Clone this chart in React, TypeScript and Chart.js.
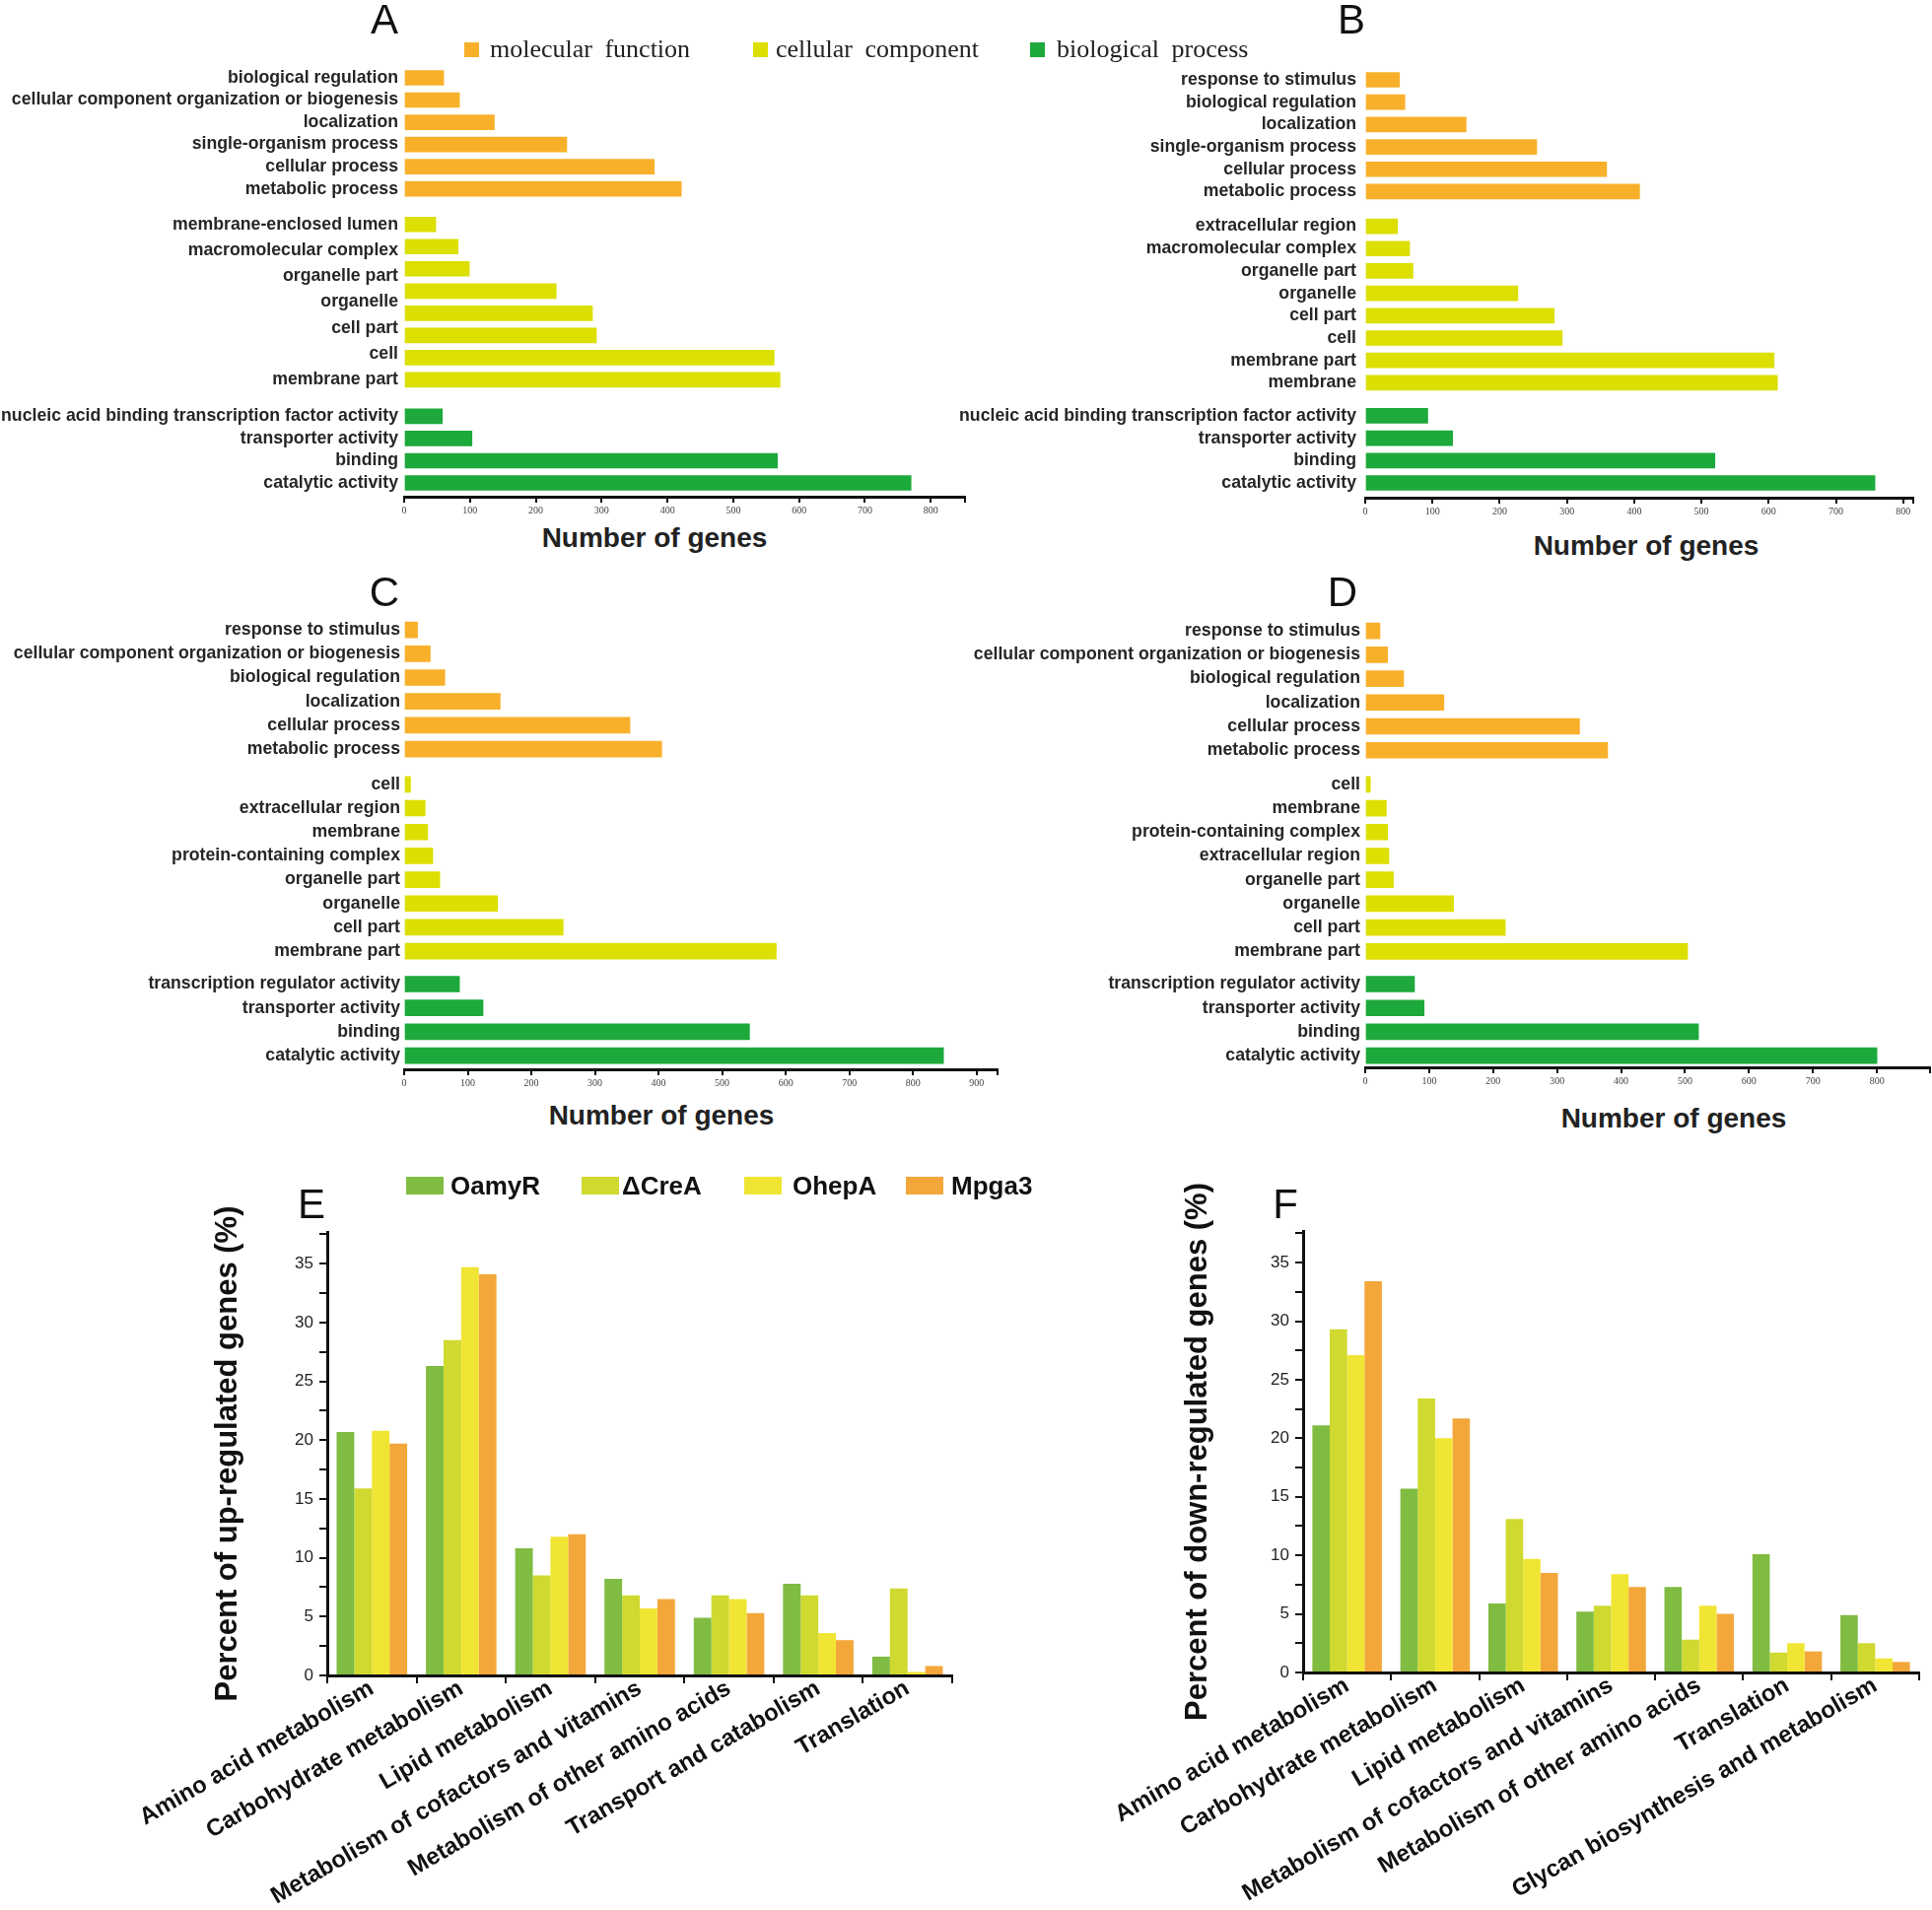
import React, { useEffect, useRef } from 'react';
import { Chart, registerables } from 'chart.js';

Chart.register(...registerables);

const SANS = '"Liberation Sans", Arial, Helvetica, sans-serif';
const SERIF = '"Liberation Serif", "Times New Roman", Times, serif';

// ---------------- GO classification (panels A–D) ----------------
const goGroupNames = ['molecular function', 'cellular component', 'biological process'];
const goColors = ['#F8B02B', '#DCDF00', '#1DA93B'];

// Panel A
const aOrangeLabels = ['biological regulation', 'cellular component organization or biogenesis', 'localization', 'single-organism process', 'cellular process', 'metabolic process'];
const aOrangeValues = [60, 84, 137, 247, 380, 421];
const aYellowLabels = ['membrane-enclosed lumen', 'macromolecular complex', 'organelle part', 'organelle', 'cell part', 'cell', 'membrane part'];
const aYellowValues = [48, 82, 99, 231, 286, 292, 562, 571];
const aGreenLabels = ['nucleic acid binding transcription factor activity', 'transporter activity', 'binding', 'catalytic activity'];
const aGreenValues = [58, 103, 567, 770];

// Panel B
const bOrangeLabels = ['response to stimulus', 'biological regulation', 'localization', 'single-organism process', 'cellular process', 'metabolic process'];
const bOrangeValues = [51, 59, 150, 255, 359, 408];
const bYellowLabels = ['extracellular region', 'macromolecular complex', 'organelle part', 'organelle', 'cell part', 'cell', 'membrane part', 'membrane'];
const bYellowValues = [48, 66, 71, 227, 281, 293, 608, 613];
const bGreenLabels = ['nucleic acid binding transcription factor activity', 'transporter activity', 'binding', 'catalytic activity'];
const bGreenValues = [93, 130, 520, 758];

// Panel C
const cOrangeLabels = ['response to stimulus', 'cellular component organization or biogenesis', 'biological regulation', 'localization', 'cellular process', 'metabolic process'];
const cOrangeValues = [21, 41, 64, 151, 355, 405];
const cYellowLabels = ['cell', 'extracellular region', 'membrane', 'protein-containing complex', 'organelle part', 'organelle', 'cell part', 'membrane part'];
const cYellowValues = [10, 33, 37, 45, 56, 147, 250, 585];
const cGreenLabels = ['transcription regulator activity', 'transporter activity', 'binding', 'catalytic activity'];
const cGreenValues = [87, 124, 543, 848];

// Panel D
const dOrangeLabels = ['response to stimulus', 'cellular component organization or biogenesis', 'biological regulation', 'localization', 'cellular process', 'metabolic process'];
const dOrangeValues = [23, 35, 60, 123, 335, 379];
const dYellowLabels = ['cell', 'membrane', 'protein-containing complex', 'extracellular region', 'organelle part', 'organelle', 'cell part', 'membrane part'];
const dYellowValues = [8, 33, 35, 37, 44, 138, 219, 504];
const dGreenLabels = ['transcription regulator activity', 'transporter activity', 'binding', 'catalytic activity'];
const dGreenValues = [77, 92, 521, 800];

const xAxisTitle = 'Number of genes';
const geneTickStep = 100;

// ---------------- KEGG percentages (panels E–F) ----------------
const strainNames = ['OamyR', 'ΔCreA', 'OhepA', 'Mpga3'];
const strainColors = ['#80BC42', '#CFD92F', '#F1E534', '#F3A73B'];

const eCategories = ['Amino acid metabolism', 'Carbohydrate metabolism', 'Lipid metabolism', 'Metabolism of cofactors and vitamins', 'Metabolism of other amino acids', 'Transport and catabolism', 'Translation'];
const eOamyR = [20.7, 26.3, 10.8, 8.2, 4.9, 7.8, 1.6];
const eCreA = [15.9, 28.5, 8.5, 6.8, 6.8, 6.8, 7.4];
const eOhepA = [20.8, 34.7, 11.8, 5.7, 6.5, 3.6, 0.3];
const eMpga3 = [19.7, 34.1, 12.0, 6.5, 5.3, 3.0, 0.8];
const eTitle = 'Percent of up-regulated genes (%)';

const fCategories = ['Amino acid metabolism', 'Carbohydrate metabolism', 'Lipid metabolism', 'Metabolism of cofactors and vitamins', 'Metabolism of other amino acids', 'Translation', 'Glycan biosynthesis and metabolism'];
const fOamyR = [21.1, 15.7, 5.9, 5.2, 7.3, 10.1, 4.9];
const fCreA = [29.3, 23.4, 13.1, 5.7, 2.8, 1.7, 2.5];
const fOhepA = [27.1, 20.0, 9.7, 8.4, 5.7, 2.5, 1.2];
const fMpga3 = [33.4, 21.7, 8.5, 7.3, 5.0, 1.8, 0.9];
const fTitle = 'Percent of down-regulated genes (%)';

const percentMax = 37.7;

// ---------------- helpers ----------------
type Group = { labels: string[]; values: number[] };
type HLayout = {
  left: number; top: number; width: number; height: number;
  areaLeft: number; areaRight: number; firstRow: number; lastRow: number; axisY: number;
  gaps: number[]; xMax: number; bar: number; labelPad: number;
};

function hbarConfig(groups: Group[], L: HLayout): any {
  const rowPos: number[][] = [];
  const tickPos: number[] = [];
  const tickText: string[] = [];
  let start = 0;
  groups.forEach((g, gi) => {
    const n = g.values.length;
    rowPos.push(g.values.map((_, i) => start + i));
    const m = g.labels.length;
    g.labels.forEach((lab, k) => {
      tickPos.push(m === n ? start + k : start + (m > 1 ? (k * (n - 1)) / (m - 1) : 0));
      tickText.push(lab);
    });
    start += n - 1 + (L.gaps[gi] ?? 0);
  });
  const lastGroup = rowPos[rowPos.length - 1];
  const posLast = lastGroup[lastGroup.length - 1];
  const u = (L.lastRow - L.firstRow) / posLast;
  const yMin = -0.6;
  const areaTop = L.firstRow + yMin * u;
  const yMax = posLast + (L.axisY - L.lastRow) / u;

  const xTicks: number[] = [];
  for (let v = 0; v <= L.xMax; v += geneTickStep) xTicks.push(v);
  if (xTicks[xTicks.length - 1] !== L.xMax) xTicks.push(L.xMax);

  return {
    type: 'bar',
    data: {
      datasets: groups.map((g, gi) => ({
        label: goGroupNames[gi],
        data: g.values.map((v, i) => ({ x: v, y: rowPos[gi][i] })),
        backgroundColor: goColors[gi],
        barThickness: L.bar,
        grouped: false,
      })),
    },
    options: {
      indexAxis: 'y',
      animation: false,
      responsive: false,
      events: [],
      layout: { padding: { top: areaTop - L.top, right: L.left + L.width - L.areaRight, left: 0, bottom: 0 } },
      plugins: { legend: { display: false }, tooltip: { enabled: false } },
      scales: {
        x: {
          type: 'linear',
          position: 'bottom',
          min: 0,
          max: L.xMax,
          offset: false,
          afterFit: (s: any) => { s.height = L.top + L.height - L.axisY; },
          afterBuildTicks: (s: any) => { s.ticks = xTicks.map((v) => ({ value: v })); },
          ticks: {
            autoSkip: false,
            maxRotation: 0,
            callback: (v: number) => (v % geneTickStep === 0 ? String(v) : ''),
            font: { family: SERIF, size: 10 },
            color: '#444',
            padding: 2,
          },
          grid: { display: true, offset: false, drawOnChartArea: false, drawTicks: true, tickLength: 6, color: '#111', lineWidth: 2 },
          border: { display: true, color: '#111', width: 3 },
        },
        y: {
          type: 'linear',
          position: 'left',
          reverse: true,
          offset: false,
          min: yMin,
          max: yMax,
          afterFit: (s: any) => { s.width = L.areaLeft - L.left; },
          afterBuildTicks: (s: any) => { s.ticks = tickPos.map((v) => ({ value: v })); },
          ticks: {
            autoSkip: false,
            callback: (_v: number, i: number) => tickText[i],
            font: { family: SANS, size: 17.7, weight: 'bold' },
            color: '#262626',
            padding: L.labelPad,
          },
          grid: { display: false, drawTicks: false, offset: false },
          border: { display: false },
        },
      },
    },
  };
}

type VLayout = {
  left: number; top: number; width: number; height: number;
  areaLeft: number; areaRight: number; areaTop: number; axisY: number;
  titleX: number; catPct: number;
};

function groupedConfig(cats: string[], series: number[][], title: string, L: VLayout): any {
  const titleSize = 31;
  const titleLine = titleSize * 1.2;
  return {
    type: 'bar',
    data: {
      labels: cats,
      datasets: series.map((s, i) => ({
        label: strainNames[i],
        data: s,
        backgroundColor: strainColors[i],
        barPercentage: 1,
        categoryPercentage: L.catPct,
      })),
    },
    options: {
      animation: false,
      responsive: false,
      events: [],
      layout: { padding: { top: L.areaTop - L.top, right: L.left + L.width - L.areaRight, left: 0, bottom: 0 } },
      plugins: { legend: { display: false }, tooltip: { enabled: false } },
      scales: {
        x: {
          type: 'category',
          offset: true,
          afterFit: (s: any) => { s.height = L.top + L.height - L.axisY; },
          grid: { display: true, offset: true, drawOnChartArea: false, tickLength: 8, color: '#111', lineWidth: 2 },
          border: { display: true, color: '#111', width: 3 },
          ticks: {
            autoSkip: false,
            minRotation: 30,
            maxRotation: 30,
            font: { family: SANS, size: 24, weight: 'bold' },
            color: '#111',
            padding: -9,
          },
        },
        y: {
          type: 'linear',
          min: 0,
          max: percentMax,
          afterFit: (s: any) => { s.width = L.areaLeft - L.left; },
          ticks: {
            stepSize: 2.5,
            includeBounds: false,
            autoSkip: false,
            callback: (v: number) => (v % 5 === 0 ? String(v) : ''),
            font: { family: SANS, size: 17 },
            color: '#222',
            padding: 6,
          },
          grid: { display: true, drawOnChartArea: false, tickLength: 8, color: '#111', lineWidth: 2 },
          border: { display: true, color: '#111', width: 3 },
          title: {
            display: true,
            text: title,
            font: { family: SANS, size: titleSize, weight: 'bold', lineHeight: 1.2 },
            color: '#111',
            padding: { top: L.titleX - L.left - titleLine / 2, bottom: 0 },
          },
        },
      },
    },
  };
}

function ChartBox({ box, make }: { box: { left: number; top: number; width: number; height: number }; make: () => any }) {
  const ref = useRef<HTMLCanvasElement | null>(null);
  useEffect(() => {
    if (!ref.current) return;
    const chart = new Chart(ref.current, make());
    return () => chart.destroy();
  }, []);
  return (
    <canvas
      ref={ref}
      width={box.width}
      height={box.height}
      style={{ position: 'absolute', left: box.left, top: box.top, width: box.width, height: box.height }}
    />
  );
}

// ---------------- layouts (positions only) ----------------
const layoutA: HLayout = { left: 0, top: 40, width: 985, height: 490, areaLeft: 410, areaRight: 979, firstRow: 79, lastRow: 490, axisY: 504, gaps: [1.6, 1.64], xMax: 852, bar: 15, labelPad: 6 };
const layoutB: HLayout = { left: 965, top: 40, width: 995, height: 492, areaLeft: 1385, areaRight: 1941, firstRow: 81, lastRow: 490, axisY: 505, gaps: [1.55, 1.48], xMax: 815, bar: 15, labelPad: 9 };
const layoutC: HLayout = { left: 0, top: 610, width: 1020, height: 500, areaLeft: 410, areaRight: 1012, firstRow: 637.5, lastRow: 1071, axisY: 1085, gaps: [1.48, 1.38], xMax: 933, bar: 16, labelPad: 4 };
const layoutD: HLayout = { left: 975, top: 610, width: 985, height: 500, areaLeft: 1385, areaRight: 1959, firstRow: 635, lastRow: 1071, axisY: 1083, gaps: [1.43, 1.37], xMax: 883, bar: 16, labelPad: 5 };
const layoutE: VLayout = { left: 100, top: 1180, width: 880, height: 758, areaLeft: 332, areaRight: 966, areaTop: 1250, axisY: 1700, titleX: 231, catPct: 0.79 };
const layoutF: VLayout = { left: 1000, top: 1180, width: 960, height: 758, areaLeft: 1322, areaRight: 1947, areaTop: 1249, axisY: 1697, titleX: 1215, catPct: 0.79 };

const panelLetters = [
  { t: 'A', x: 390, y: 20 }, { t: 'B', x: 1371, y: 20 },
  { t: 'C', x: 390, y: 601 }, { t: 'D', x: 1362, y: 601 },
  { t: 'E', x: 316, y: 1222 }, { t: 'F', x: 1304, y: 1222 },
];
const geneTitlePos = [{ x: 664, y: 546 }, { x: 1670, y: 554 }, { x: 671, y: 1132 }, { x: 1698, y: 1135 }];
const goLegendPos = [{ sq: 471, tx: 497 }, { sq: 764, tx: 787 }, { sq: 1045, tx: 1072 }];
const strainLegendPos = [{ sq: 412, tx: 457 }, { sq: 590, tx: 631 }, { sq: 755, tx: 804 }, { sq: 919, tx: 965 }];

export default function App() {
  useEffect(() => {
    document.body.style.margin = '0';
  }, []);

  const groupsA: Group[] = [
    { labels: aOrangeLabels, values: aOrangeValues },
    { labels: aYellowLabels, values: aYellowValues },
    { labels: aGreenLabels, values: aGreenValues },
  ];
  const groupsB: Group[] = [
    { labels: bOrangeLabels, values: bOrangeValues },
    { labels: bYellowLabels, values: bYellowValues },
    { labels: bGreenLabels, values: bGreenValues },
  ];
  const groupsC: Group[] = [
    { labels: cOrangeLabels, values: cOrangeValues },
    { labels: cYellowLabels, values: cYellowValues },
    { labels: cGreenLabels, values: cGreenValues },
  ];
  const groupsD: Group[] = [
    { labels: dOrangeLabels, values: dOrangeValues },
    { labels: dYellowLabels, values: dYellowValues },
    { labels: dGreenLabels, values: dGreenValues },
  ];

  return (
    <div style={{ position: 'absolute', left: 0, top: 0, width: 1960, height: 1938, background: '#fff', overflow: 'hidden', fontFamily: SANS }}>
      <ChartBox box={layoutA} make={() => hbarConfig(groupsA, layoutA)} />
      <ChartBox box={layoutB} make={() => hbarConfig(groupsB, layoutB)} />
      <ChartBox box={layoutC} make={() => hbarConfig(groupsC, layoutC)} />
      <ChartBox box={layoutD} make={() => hbarConfig(groupsD, layoutD)} />
      <ChartBox box={layoutE} make={() => groupedConfig(eCategories, [eOamyR, eCreA, eOhepA, eMpga3], eTitle, layoutE)} />
      <ChartBox box={layoutF} make={() => groupedConfig(fCategories, [fOamyR, fCreA, fOhepA, fMpga3], fTitle, layoutF)} />

      {panelLetters.map((p) => (
        <div key={p.t} style={{ position: 'absolute', left: p.x, top: p.y, transform: 'translate(-50%, -50%)', fontFamily: SANS, fontSize: 42, color: '#111', lineHeight: 1 }}>
          {p.t}
        </div>
      ))}

      {geneTitlePos.map((p, i) => (
        <div key={i} style={{ position: 'absolute', left: p.x, top: p.y, transform: 'translate(-50%, -50%)', fontFamily: SANS, fontSize: 28, fontWeight: 'bold', color: '#222', whiteSpace: 'nowrap', lineHeight: 1 }}>
          {xAxisTitle}
        </div>
      ))}

      {goLegendPos.map((p, i) => (
        <React.Fragment key={i}>
          <div style={{ position: 'absolute', left: p.sq, top: 43, width: 15, height: 15, background: goColors[i] }} />
          <div style={{ position: 'absolute', left: p.tx, top: 50, transform: 'translateY(-50%)', fontFamily: SERIF, fontSize: 26, wordSpacing: 6, color: '#222', whiteSpace: 'nowrap', lineHeight: 1 }}>
            {goGroupNames[i]}
          </div>
        </React.Fragment>
      ))}

      {strainLegendPos.map((p, i) => (
        <React.Fragment key={i}>
          <div style={{ position: 'absolute', left: p.sq, top: 1194, width: 38, height: 18, background: strainColors[i] }} />
          <div style={{ position: 'absolute', left: p.tx, top: 1203, transform: 'translateY(-50%)', fontFamily: SANS, fontSize: 26, fontWeight: 'bold', color: '#111', whiteSpace: 'nowrap', lineHeight: 1 }}>
            {strainNames[i]}
          </div>
        </React.Fragment>
      ))}
    </div>
  );
}
